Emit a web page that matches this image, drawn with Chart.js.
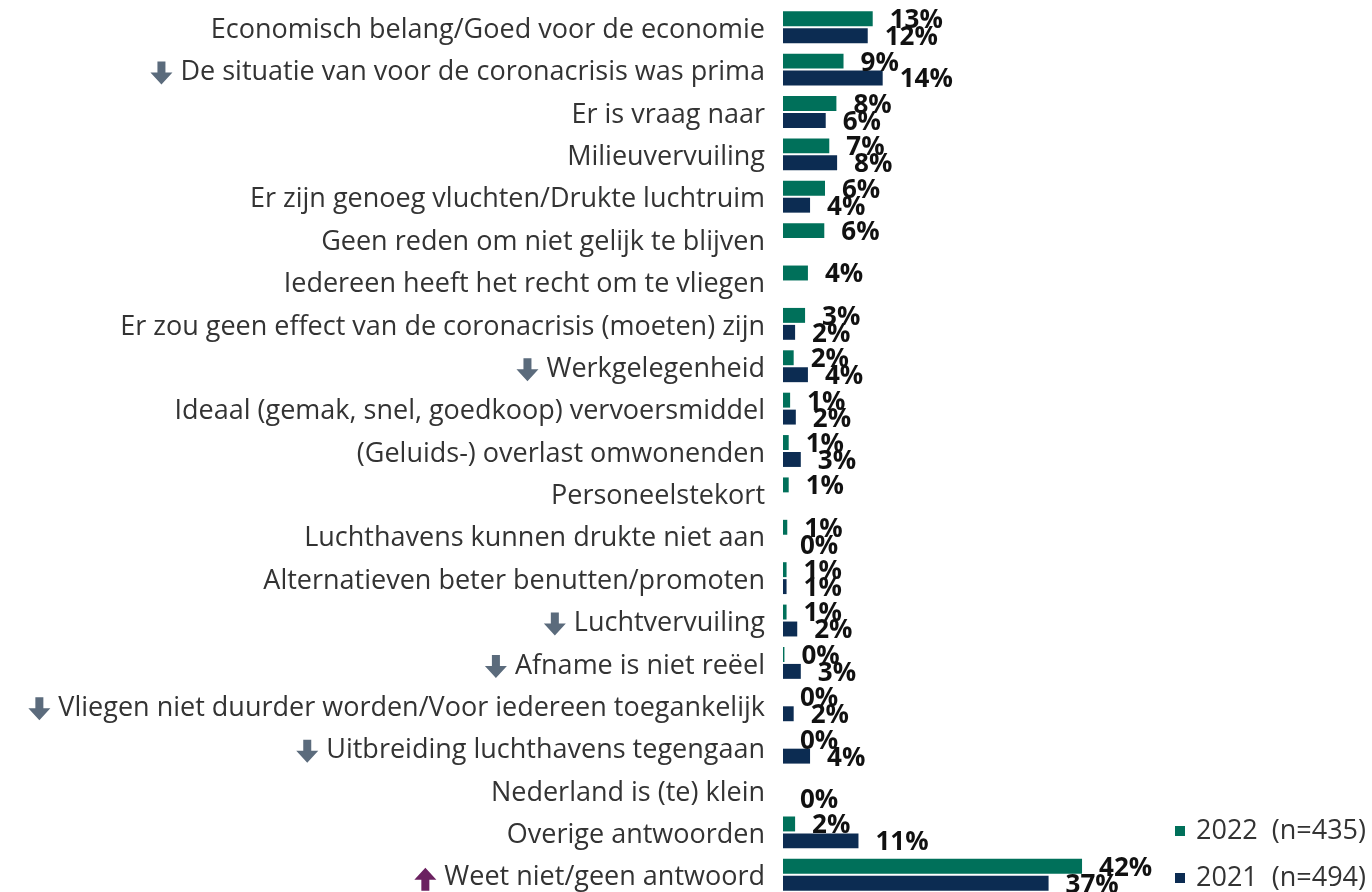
<!DOCTYPE html>
<html>
<head>
<meta charset="utf-8">
<script src="https://cdn.jsdelivr.net/npm/chart.js@4.4.0/dist/chart.umd.min.js"></script>
<style>
  html, body { margin: 0; padding: 0; overflow: hidden; background: #fff; }
  #wrap { width: 1372px; height: 900px; position: relative; }
</style>
</head>
<body>
<div id="wrap"><canvas id="myChart"></canvas></div>
<script>
var categories = [
    'Economisch belang/Goed voor de economie',
    'De situatie van voor de coronacrisis was prima',
    'Er is vraag naar',
    'Milieuvervuiling',
    'Er zijn genoeg vluchten/Drukte luchtruim',
    'Geen reden om niet gelijk te blijven',
    'Iedereen heeft het recht om te vliegen',
    'Er zou geen effect van de coronacrisis (moeten) zijn',
    'Werkgelegenheid',
    'Ideaal (gemak, snel, goedkoop) vervoersmiddel',
    '(Geluids-) overlast omwonenden',
    'Personeelstekort',
    'Luchthavens kunnen drukte niet aan',
    'Alternatieven beter benutten/promoten',
    'Luchtvervuiling',
    'Afname is niet reëel',
    'Vliegen niet duurder worden/Voor iedereen toegankelijk',
    'Uitbreiding luchthavens tegengaan',
    'Nederland is (te) klein',
    'Overige antwoorden',
    'Weet niet/geen antwoord'
];
// significant change markers shown left of the label
var arrows = ['', 'down', '', '', '', '', '', '', 'down', '', '', '', '', '', 'down', 'down', 'down', 'down', '', '', 'up'];

var values2022 = [12.6, 8.5, 7.5, 6.5, 5.9, 5.8, 3.5, 3.1, 1.5, 1.0, 0.8, 0.8, 0.6, 0.5, 0.5, 0.2, 0, 0, null, 1.7, 42];
var values2021 = [11.9, 14.0, 6.0, 7.6, 3.8, null, null, 1.7, 3.5, 1.8, 2.5, null, 0, 0.5, 2.0, 2.5, 1.5, 3.8, 0, 10.6, 37.3];
var seriesLabels = ['2022  (n=435)', '2021  (n=494)'];
var seriesColors = ['#00705a', '#0c2c52'];

var tickFont = { family: 'Open Sans', size: 27 };
var tickPad = 10;   // plus 8px tick length

var valueLabels = {
    id: 'valueLabels',
    afterDatasetsDraw: function(chart) {
        var ctx = chart.ctx;
        ctx.save();
        ctx.font = 'bold 26px "Open Sans"';
        ctx.fillStyle = '#111';
        ctx.textBaseline = 'middle';
        chart.data.datasets.forEach(function(ds, di) {
            var meta = chart.getDatasetMeta(di);
            meta.data.forEach(function(bar, i) {
                var v = ds.data[i];
                if (v === null || v === undefined) return;
                ctx.fillText(Math.round(v) + '%', bar.x + 17, bar.y + 2);
            });
        });
        ctx.restore();
    }
};

var arrowMarks = {
    id: 'arrowMarks',
    afterDraw: function(chart) {
        var ctx = chart.ctx;
        var yScale = chart.scales.y;
        ctx.save();
        ctx.font = tickFont.size + 'px "' + tickFont.family + '"';
        arrows.forEach(function(a, i) {
            if (!a) return;
            var y = yScale.getPixelForTick(i) + 4;
            var w = ctx.measureText(categories[i]).width;
            var right = yScale.right - 8 - tickPad - w - 8;
            var cx = right - 11;
            ctx.beginPath();
            if (a === 'down') {
                ctx.fillStyle = '#5b6b7c';
                ctx.moveTo(cx - 4, y - 12);
                ctx.lineTo(cx + 4, y - 12);
                ctx.lineTo(cx + 4, y - 1);
                ctx.lineTo(cx + 11, y - 1);
                ctx.lineTo(cx, y + 11);
                ctx.lineTo(cx - 11, y - 1);
                ctx.lineTo(cx - 4, y - 1);
            } else {
                ctx.fillStyle = '#6b2160';
                ctx.moveTo(cx - 4, y + 12);
                ctx.lineTo(cx + 4, y + 12);
                ctx.lineTo(cx + 4, y + 1);
                ctx.lineTo(cx + 11, y + 1);
                ctx.lineTo(cx, y - 11);
                ctx.lineTo(cx - 11, y + 1);
                ctx.lineTo(cx - 4, y + 1);
            }
            ctx.closePath();
            ctx.fill();
        });
        ctx.restore();
    }
};

// legend in the bottom right corner, stacked
var cornerLegend = {
    id: 'cornerLegend',
    afterDraw: function(chart) {
        var ctx = chart.ctx;
        ctx.save();
        ctx.font = '27px "Open Sans"';
        ctx.textBaseline = 'middle';
        var rows = [831, 878];
        chart.data.datasets.forEach(function(ds, i) {
            ctx.fillStyle = ds.backgroundColor;
            ctx.fillRect(1175, rows[i] - 5, 10, 10);
            ctx.fillStyle = '#333';
            ctx.fillText(ds.label, 1196, rows[i]);
        });
        ctx.restore();
    }
};

var ctx = document.getElementById('myChart').getContext('2d');
var chart = new Chart(ctx, {
    type: 'bar',
    data: {
        labels: categories,
        datasets: [{
            label: seriesLabels[0],
            data: values2022,
            backgroundColor: seriesColors[0],
            categoryPercentage: 0.8,
            barPercentage: 0.88
        }, {
            label: seriesLabels[1],
            data: values2021,
            backgroundColor: seriesColors[1],
            categoryPercentage: 0.8,
            barPercentage: 0.88
        }]
    },
    options: {
        indexAxis: 'y',
        responsive: true,
        maintainAspectRatio: false,
        animation: false,
        layout: { padding: { top: 6, bottom: 4, left: 0, right: 233 } },
        scales: {
            x: { display: false, min: 0, max: 50 },
            y: {
                grid: { display: false },
                border: { display: false },
                ticks: { color: '#333', font: tickFont, padding: tickPad, autoSkip: false, labelOffset: 3 },
                afterFit: function(scale) {
                    scale.width = 783;
                    scale.paddingTop = 0;
                    scale.paddingBottom = 0;
                }
            }
        },
        plugins: {
            legend: { display: false },
            tooltip: { enabled: false }
        }
    },
    plugins: [valueLabels, arrowMarks, cornerLegend]
});
</script>
</body>
</html>
